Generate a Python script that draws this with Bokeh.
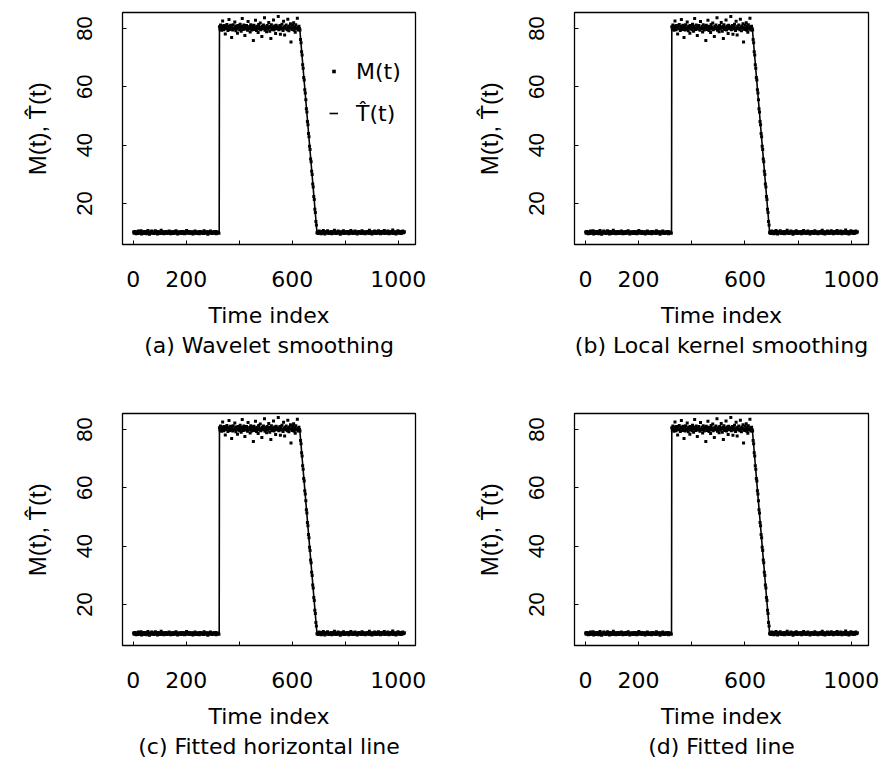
import numpy as np
from bokeh.plotting import figure
from bokeh.layouts import column, row
from bokeh.models import Range1d, FixedTicker, Title, Legend, LegendItem
from bokeh.embed import file_html
from bokeh.resources import INLINE

# ---------------- data ----------------
# observed series M(t), sampled every 2nd time index, split into regimes
m_low1 = [
    10.2, 9.8, 10.4, 9.9, 10.1, 9.6, 10.3, 10.0, 9.7, 10.5, 9.9, 10.2, 9.8, 10.1, 10.6, 9.5, 10.0, 10.3,
    9.9, 10.2, 9.7, 10.4, 10.0, 9.8, 10.1, 9.6, 10.3, 10.7, 9.9, 10.0, 9.4, 10.2, 10.1, 9.8, 10.5, 9.9,
    10.0, 10.3, 9.7, 10.1, 9.9, 10.6, 9.8, 10.2, 10.0, 9.5, 10.4, 10.1, 9.9, 10.2, 9.7, 10.0, 10.8, 9.8,
    10.1, 9.9, 10.3, 9.6, 10.2, 10.0, 9.8, 10.4, 10.1, 9.7, 10.0, 10.2, 9.9, 10.5, 9.8, 10.1, 9.6, 10.3,
    10.0, 9.9, 10.2, 9.7, 10.4, 10.1, 9.8, 10.0, 10.6, 9.9, 10.2, 9.5, 10.1, 10.0, 9.8, 10.3, 9.9, 10.2,
    9.7, 10.1, 10.4, 9.8, 10.0, 10.2, 9.6, 10.3, 9.9, 10.1, 10.7, 9.8, 10.0, 10.2, 9.9, 10.4, 9.7, 10.1,
    10.0, 9.8, 10.3, 10.1, 9.5, 10.2, 9.9, 10.0, 10.5, 9.8, 10.1, 9.7, 10.2, 10.0, 9.9, 10.3, 9.6, 10.1,
    10.4, 9.8, 10.0, 10.2, 9.9, 10.1, 9.7, 10.6, 10.0, 9.8, 10.2, 10.1, 9.9, 10.3, 9.4, 10.0, 10.2, 9.8,
    10.1, 10.5, 9.9, 10.0, 9.7, 10.2, 10.1, 9.8, 10.3, 9.9, 10.0, 10.4, 9.6, 10.2, 9.9, 10.1, 10.0, 9.8,
]
m_high = [
    80.6, 79.8, 81.2, 80.1, 79.4, 80.9, 82.6, 80.3, 79.6, 81.0, 80.2, 78.1, 80.7, 79.9, 81.4, 80.0, 79.3, 80.8, 83.1,
    80.4, 79.7, 81.1, 80.2, 76.9, 80.6, 79.5, 81.3, 80.0, 79.8, 82.2, 80.5, 79.2, 80.9, 80.1, 78.4, 81.0, 79.9, 80.7,
    79.6, 81.5, 80.3, 79.1, 80.8, 83.4, 80.0, 79.7, 81.2, 80.4, 77.6, 80.6, 79.8, 81.0, 80.2, 79.4, 82.4, 80.1, 79.9,
    80.7, 78.8, 81.3, 80.0, 79.5, 80.9, 80.3, 75.9, 81.1, 79.7, 80.5, 82.8, 80.2, 79.3, 80.8, 80.0, 78.6, 81.4, 79.8,
    80.4, 81.9, 79.6, 80.1, 77.3, 80.7, 79.9, 81.2, 80.3, 83.7, 79.4, 80.6, 80.0, 78.9, 81.0, 79.8, 80.5, 82.1, 80.2,
    79.1, 80.8, 76.6, 81.3, 80.0, 79.7, 80.4, 82.9, 79.5, 80.9, 80.1, 78.3, 81.1, 79.9, 80.6, 80.2, 84.1, 79.6, 80.3,
    81.0, 78.0, 80.7, 79.8, 81.5, 80.1, 79.3, 82.5, 80.4, 77.8, 80.8, 79.9, 81.2, 80.0, 79.6, 83.2, 80.5, 79.2, 80.9,
    80.2, 81.6, 75.4, 80.3, 79.7, 81.1, 80.0, 82.0, 79.4, 80.6, 78.7, 81.3, 80.1, 79.8, 83.5, 80.4, 79.5, 80.8, 80.0,
]
m_decline = [
    79.5, 76.2, 75.1, 72.0, 70.9, 67.6, 66.4, 63.2, 62.3, 59.0, 57.9, 55.6, 52.5, 51.4, 48.1, 47.0,
    44.0, 42.9, 39.6, 38.5, 35.2, 34.3, 31.0, 29.9, 26.7, 25.6, 22.4, 21.3, 18.0, 16.9, 13.8, 12.6,
]
m_low2 = [
    9.9, 10.3, 9.7, 10.1, 10.5, 9.8, 10.0, 10.2, 9.6, 10.4, 9.9, 10.1, 10.7, 9.8, 10.0, 9.5, 10.3, 10.2, 9.9,
    10.0, 10.6, 9.8, 10.1, 9.7, 10.2, 10.0, 9.9, 10.4, 9.6, 10.1, 10.3, 9.8, 10.0, 10.8, 9.9, 10.2, 9.7, 10.1,
    10.0, 9.8, 10.5, 10.2, 9.9, 10.0, 9.4, 10.3, 10.1, 9.8, 10.2, 9.9, 10.6, 10.0, 9.7, 10.1, 10.3, 9.8, 10.0,
    10.2, 9.9, 10.4, 9.6, 10.1, 10.0, 9.8, 10.7, 10.2, 9.9, 10.0, 9.7, 10.3, 10.1, 9.8, 10.5, 9.9, 10.0, 10.2,
    9.5, 10.1, 9.9, 10.4, 10.0, 9.8, 10.2, 10.1, 9.7, 10.6, 9.9, 10.0, 10.3, 9.8, 10.1, 9.6, 10.2, 10.0, 9.9,
    10.4, 9.8, 10.1, 10.0, 10.8, 9.7, 10.2, 9.9, 10.1, 9.5, 10.3, 10.0, 9.8, 10.2, 10.5, 9.9, 10.1, 9.7, 10.0,
    10.3, 9.8, 10.6, 10.1, 9.9, 10.2, 9.6, 10.0, 10.4, 9.8, 10.1, 9.9, 10.2, 10.7, 9.7, 10.0, 10.3, 9.9, 10.1,
    9.8, 10.5, 10.0, 9.6, 10.2, 10.1, 9.9, 10.4, 9.8, 10.0, 10.9, 9.7, 10.2, 10.1, 9.9, 10.3, 9.5, 10.0, 10.2,
    9.8, 10.6, 10.1, 9.9, 10.0, 10.4, 9.7, 10.2, 9.8, 10.1, 10.5, 9.9, 10.0, 10.3,
]
# first time index of each regime (every 2nd index is kept)
seg_start = [1, 325, 629, 693]

# estimated trend T-hat(t): breakpoints of the piecewise-linear fit
that_t = [1, 324, 325, 628, 693, 1024]
that_v = [10, 10, 80, 80, 10, 10]

x_ticks = [0, 200, 400, 600, 800, 1000]
x_tick_labels = {0: "0", 200: "200", 400: "", 600: "600", 800: "", 1000: "1000"}
y_ticks = [20, 40, 60, 80]

panel_titles = ["(a) Wavelet smoothing", "(b) Local kernel smoothing",
                "(c) Fitted horizontal line", "(d) Fitted line"]
x_label = "Time index"
y_label = "M(t), T\u0302(t)"
legend_labels = ["M(t)", "T\u0302(t)"]

# ---------------- assemble series ----------------
segs = [m_low1, m_high, m_decline, m_low2]
t_all, m_all = [], []
for s0, vals in zip(seg_start, segs):
    t_all.extend(s0 + 2 * np.arange(len(vals)))
    m_all.extend(vals)

HFONT = "DejaVu Sans"       # horizontal texts (reference glyphs are wide)
VFONT = "Liberation Sans"   # vertical texts


def make_panel(idx, left, right, top, bottom):
    p = figure(frame_width=right[0], frame_height=232,
               min_border_left=left, min_border_right=right[1],
               min_border_top=top, min_border_bottom=bottom,
               x_range=Range1d(-41, 1065), y_range=Range1d(5.9, 85.5),
               output_backend="svg", toolbar_location=None)
    p.xgrid.visible = False
    p.ygrid.visible = False
    p.outline_line_color = "black"
    p.outline_line_width = 1.3
    p.outline_line_alpha = 1.0
    p.background_fill_color = "white"
    p.border_fill_color = "white"

    r_pts = p.scatter(t_all, m_all, marker="square", size=3.0, color="black", line_width=0)
    r_line = p.line(that_t, that_v, line_color="black", line_width=1.6)

    for ax in (p.xaxis[0], p.yaxis[0]):
        ax.axis_line_color = None
        ax.major_tick_in = 4
        ax.major_tick_out = 0
        ax.minor_tick_line_color = None
        ax.major_tick_line_color = "black"
        ax.major_label_text_color = "black"
        ax.axis_label_text_font_style = "normal"
        ax.axis_label_text_color = "black"

    xa = p.xaxis[0]
    xa.ticker = FixedTicker(ticks=x_ticks)
    xa.major_label_overrides = x_tick_labels
    xa.major_label_text_font = HFONT
    xa.major_label_text_font_size = "22px"
    xa.major_label_standoff = 26
    xa.axis_label = x_label
    xa.axis_label_text_font = HFONT
    xa.axis_label_text_font_size = "22px"
    xa.axis_label_standoff = 13

    ya = p.yaxis[0]
    ya.ticker = FixedTicker(ticks=y_ticks)
    ya.major_label_orientation = "vertical"
    ya.major_label_text_font = VFONT
    ya.major_label_text_font_size = "22px"
    ya.major_label_standoff = 30
    ya.axis_label = y_label
    ya.axis_label_text_font = VFONT
    ya.axis_label_text_font_size = "24px"
    ya.axis_label_standoff = 24

    t = Title(text=panel_titles[idx], align="center", text_font=HFONT,
              text_font_size="22px", text_font_style="normal", text_color="black",
              standoff=0, offset=0)
    p.add_layout(t, "below")

    if idx == 0:
        leg = Legend(items=[LegendItem(label=legend_labels[0], renderers=[r_pts]),
                            LegendItem(label=legend_labels[1], renderers=[r_line])],
                     location=(207, 118), border_line_color=None,
                     background_fill_alpha=0, padding=0, margin=0,
                     glyph_width=9, glyph_height=26, label_standoff=18, spacing=16,
                     label_text_font=HFONT, label_text_font_size="22px",
                     label_text_color="black")
        p.add_layout(leg, "center")
    return p


p1 = make_panel(0, 122, (293, 25), 12, 136)
p2 = make_panel(1, 134, (294, 13), 12, 136)
p3 = make_panel(2, 122, (293, 25), 33, 115)
p4 = make_panel(3, 134, (294, 13), 33, 115)

layout = column(row(p1, p2), row(p3, p4))

with open("out.html", "w") as f:
    f.write(file_html(layout, INLINE))
